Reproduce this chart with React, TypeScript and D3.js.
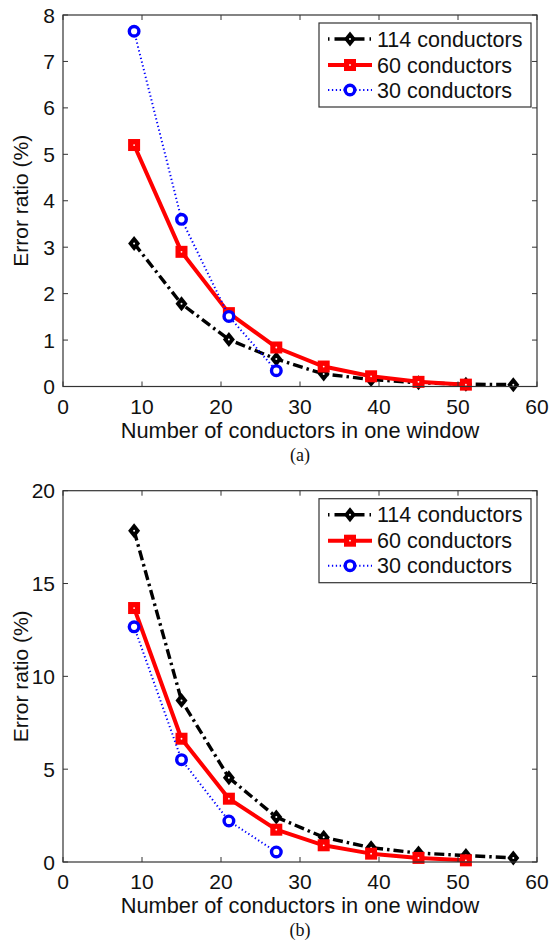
import React from "react";
import * as d3 from "d3";

const xValues = [9, 15, 21, 27, 33, 39, 45, 51, 57];
const aS114 = [3.08, 1.78, 1.01, 0.59, 0.27, 0.15, 0.08, 0.05, 0.04];
const aS60 = [5.2, 2.9, 1.58, 0.84, 0.43, 0.22, 0.1, 0.04];
const aS30 = [7.65, 3.6, 1.51, 0.34];
const bS114 = [17.84, 8.7, 4.54, 2.42, 1.33, 0.77, 0.48, 0.35, 0.22];
const bS60 = [13.68, 6.64, 3.41, 1.74, 0.9, 0.45, 0.22, 0.09];
const bS30 = [12.67, 5.51, 2.21, 0.54];
const xTicks = [0, 10, 20, 30, 40, 50, 60];
const aYTicks = [0, 1, 2, 3, 4, 5, 6, 7, 8];
const bYTicks = [0, 5, 10, 15, 20];
const legendLabels = ["114 conductors", "60 conductors", "30 conductors"];
const xTitle = "Number of conductors in one window";
const yTitle = "Error ratio (%)";

const FONT = "'Liberation Sans', Arial, Helvetica, sans-serif";
const LEFT = 63;
const RIGHT = 537;

type Style = { color: string; width: number; dash?: string; marker: string };
const styles: Style[] = [
  { color: "#000000", width: 3.4, dash: "10,4,2.5,4", marker: "diamond" },
  { color: "#ff0000", width: 4, marker: "square" },
  { color: "#0000ff", width: 2, dash: "1.3,2.6", marker: "circle" },
];

function Marker({ kind, x, y, color }: { kind: string; x: number; y: number; color: string }) {
  if (kind === "diamond") {
    return (
      <g>
        <path d={`M${x},${y - 7.5} L${x + 6},${y} L${x},${y + 7.5} L${x - 6},${y} Z`} fill={color} />
        <circle cx={x} cy={y} r={1} fill="#fff" />
      </g>
    );
  }
  if (kind === "square") {
    return (
      <g>
        <rect x={x - 6} y={y - 6} width={12} height={12} fill={color} />
        <circle cx={x} cy={y} r={0.9} fill="#fff" />
      </g>
    );
  }
  return <circle cx={x} cy={y} r={4.8} fill="#fff" stroke={color} strokeWidth={3.4} />;
}

function Panel({
  top,
  bottom,
  yMax,
  yTicks,
  series,
  caption,
}: {
  top: number;
  bottom: number;
  yMax: number;
  yTicks: number[];
  series: number[][];
  caption: string;
}) {
  const x = d3.scaleLinear().domain([0, 60]).range([LEFT, RIGHT]);
  const y = d3.scaleLinear().domain([0, yMax]).range([bottom, top]);
  const line = d3
    .line<[number, number]>()
    .x((d) => x(d[0]))
    .y((d) => y(d[1]));
  const tl = 5;
  const legX = 319;
  const legY = top + 8;
  const legW = 212;
  const legH = 84;
  const rowY = [legY + 16, legY + 42, legY + 67];
  return (
    <g>
      <rect x={LEFT} y={top} width={RIGHT - LEFT} height={bottom - top} fill="#fff" />
      {series.map((vals, i) => {
        const pts = vals.map((v, j) => [xValues[j], v] as [number, number]);
        const s = styles[i];
        return (
          <g key={i}>
            <path
              d={line(pts) || ""}
              fill="none"
              stroke={s.color}
              strokeWidth={s.width}
              strokeDasharray={s.dash}
              strokeLinejoin="round"
            />
            {pts.map((p, j) => (
              <Marker key={j} kind={s.marker} x={x(p[0])} y={y(p[1])} color={s.color} />
            ))}
          </g>
        );
      })}
      <rect x={LEFT} y={top} width={RIGHT - LEFT} height={bottom - top} fill="none" stroke="#333" strokeWidth={1.2} />
      {xTicks.map((t) => (
        <g key={"x" + t}>
          <line x1={x(t)} x2={x(t)} y1={bottom} y2={bottom - tl} stroke="#333" strokeWidth={1} />
          <line x1={x(t)} x2={x(t)} y1={top} y2={top + tl} stroke="#333" strokeWidth={1} />
          <text x={x(t)} y={bottom + 27} textAnchor="middle" fontSize={21} fontFamily={FONT} fill="#111">
            {t}
          </text>
        </g>
      ))}
      {yTicks.map((t) => (
        <g key={"y" + t}>
          <line x1={LEFT} x2={LEFT + tl} y1={y(t)} y2={y(t)} stroke="#333" strokeWidth={1} />
          <line x1={RIGHT} x2={RIGHT - tl} y1={y(t)} y2={y(t)} stroke="#333" strokeWidth={1} />
          <text x={LEFT - 8} y={y(t) + 7.5} textAnchor="end" fontSize={21} fontFamily={FONT} fill="#111">
            {t}
          </text>
        </g>
      ))}
      <text x={(LEFT + RIGHT) / 2} y={bottom + 51} textAnchor="middle" fontSize={21.8} fontFamily={FONT} fill="#111">
        {xTitle}
      </text>
      <text
        transform={`translate(28,${(top + bottom) / 2}) rotate(-90)`}
        textAnchor="middle"
        fontSize={21}
        fontFamily={FONT}
        fill="#111"
      >
        {yTitle}
      </text>
      <text x={(LEFT + RIGHT) / 2} y={bottom + 74} textAnchor="middle" fontSize={18} fontFamily="'Liberation Serif', 'Times New Roman', serif" fill="#111">
        {caption}
      </text>
      <rect x={legX} y={legY} width={legW} height={legH} fill="#fff" stroke="#333" strokeWidth={1.2} />
      {legendLabels.map((lab, i) => {
        const s = styles[i];
        return (
          <g key={lab}>
            <line
              x1={legX + 9}
              x2={legX + 53}
              y1={rowY[i]}
              y2={rowY[i]}
              stroke={s.color}
              strokeWidth={s.width}
              strokeDasharray={i === 0 ? "1.5,5,30,5,1.5" : s.dash}
            />
            <Marker kind={s.marker} x={legX + 31} y={rowY[i]} color={s.color} />
            <text x={legX + 58} y={rowY[i] + 7.5} fontSize={21.5} fontFamily={FONT} fill="#111">
              {lab}
            </text>
          </g>
        );
      })}
    </g>
  );
}

export default function App() {
  return (
    <svg
      width={551}
      height={941}
      style={{ position: "absolute", left: 0, top: 0, background: "#fff", display: "block" }}
    >
      <rect width={551} height={941} fill="#fff" />
      <Panel top={15} bottom={386.5} yMax={8} yTicks={aYTicks} series={[aS114, aS60, aS30]} caption="(a)" />
      <Panel top={490.7} bottom={862} yMax={20} yTicks={bYTicks} series={[bS114, bS60, bS30]} caption="(b)" />
    </svg>
  );
}
